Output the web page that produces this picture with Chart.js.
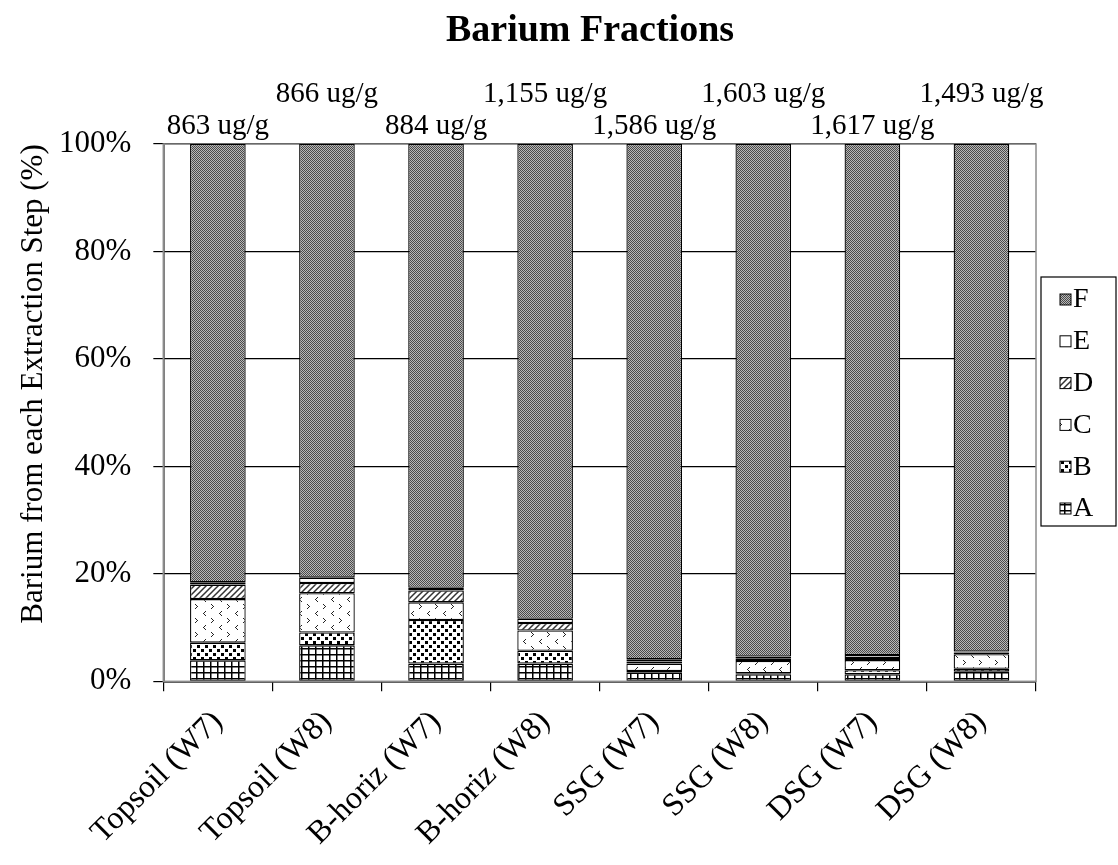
<!DOCTYPE html>
<html>
<head>
<meta charset="utf-8">
<script src="https://cdn.jsdelivr.net/npm/chart.js@4.4.1/dist/chart.umd.min.js"></script>
<style>
    html, body { margin: 0; padding: 0; background: #ffffff; }
    #wrap { width: 1118px; height: 865px; position: relative; }
</style>
</head>
<body>
<div id="wrap"><canvas id="bariumChart"></canvas></div>
<script>
// Barium fractions - sequential extraction steps (% of total)
const categories = ['Topsoil (W7)', 'Topsoil (W8)', 'B-horiz (W7)', 'B-horiz (W8)',
    'SSG (W7)', 'SSG (W8)', 'DSG (W7)', 'DSG (W8)'];
const totalLabels = ['863 ug/g', '866 ug/g', '884 ug/g', '1,155 ug/g',
    '1,586 ug/g', '1,603 ug/g', '1,617 ug/g', '1,493 ug/g'];

const fractionA = [3.9, 6.7, 3.3, 3.3, 1.6, 1.3, 1.3, 1.8];
const fractionB = [3.3, 2.4, 8.1, 2.4, 0.3, 0.2, 0.75, 0.55];
const fractionC = [8.1, 7.3, 3.3, 3.75, 1.4, 2.3, 1.9, 2.7];
const fractionD = [2.7, 1.9, 2.2, 1.4, 0.4, 0.4, 0.4, 0.3];
const fractionE = [0.45, 1.0, 0.5, 0.8, 0.4, 0.4, 0.55, 0.2];
const fractionF = [81.55, 80.7, 82.6, 88.35, 95.9, 95.4, 95.1, 94.45];

const yTicks = [0, 20, 40, 60, 80, 100];

const FONT = "'Liberation Serif', 'Times New Roman', serif";

// Build a small repeating fill pattern
function makePattern(w, h, draw) {
    const c = document.createElement('canvas');
    c.width = w;
    c.height = h;
    const g = c.getContext('2d');
    g.fillStyle = '#ffffff';
    g.fillRect(0, 0, w, h);
    draw(g);
    return document.createElement('canvas').getContext('2d').createPattern(c, 'repeat');
}

const PATTERNS = {
    A: makePattern(7, 6, g => {
        g.fillStyle = '#000';
        g.fillRect(0, 0, 7, 1.5);
        g.fillRect(0, 0, 1.5, 6);
    }),
    B: makePattern(8, 8, g => {
        g.fillStyle = '#000';
        g.fillRect(1, 1, 3, 3);
        g.fillRect(5, 5, 3, 3);
    }),
    C: makePattern(16, 14, g => {
        g.fillStyle = '#222';
        // '>' mark
        g.fillRect(3, 2, 1, 1); g.fillRect(4, 3, 1, 1); g.fillRect(5, 4, 1, 1);
        g.fillRect(4, 5, 1, 1); g.fillRect(3, 6, 1, 1);
        // '<' mark
        g.fillRect(13, 9, 1, 1); g.fillRect(12, 10, 1, 1); g.fillRect(11, 11, 1, 1);
        g.fillRect(12, 12, 1, 1); g.fillRect(13, 13, 1, 1);
    }),
    D: makePattern(6, 6, g => {
        g.strokeStyle = '#333';
        g.lineWidth = 1.5;
        g.beginPath();
        g.moveTo(-1, 7); g.lineTo(7, -1);
        g.moveTo(-4, 4); g.lineTo(4, -4);
        g.moveTo(2, 10); g.lineTo(10, 2);
        g.stroke();
    }),
    E: '#ffffff',
    F: makePattern(2, 2, g => {
        g.fillStyle = '#4a4a4a';
        g.fillRect(0, 0, 1, 1);
        g.fillRect(1, 1, 1, 1);
        g.fillStyle = '#b8b8b8';
        g.fillRect(1, 0, 1, 1);
        g.fillRect(0, 1, 1, 1);
    })
};

function series(label, data, fill) {
    return {
        label: label,
        data: data,
        backgroundColor: fill,
        borderColor: '#000000',
        borderWidth: 1.3,
        borderSkipped: false,
        categoryPercentage: 1.0,
        barPercentage: 0.51
    };
}

// Draws title, y-axis title, totals above each bar, plot border and the legend box
const decorPlugin = {
    id: 'decor',
    beforeDatasetsDraw(chart) {
        const { ctx, chartArea } = chart;
        ctx.save();
        ctx.strokeStyle = '#8c8c8c';
        ctx.lineWidth = 1.5;
        ctx.strokeRect(chartArea.left, chartArea.top, chartArea.right - chartArea.left, chartArea.bottom - chartArea.top);
        ctx.restore();
    },
    afterDraw(chart) {
        const { ctx, chartArea } = chart;
        const xScale = chart.scales.x;
        ctx.save();
        ctx.fillStyle = '#000';
        ctx.textAlign = 'center';
        ctx.textBaseline = 'middle';
        ctx.font = 'bold 38px ' + FONT;
        ctx.fillText('Barium Fractions', 590, 31);

        ctx.font = '29px ' + FONT;
        totalLabels.forEach((txt, i) => {
            const x = xScale.getPixelForValue(i);
            const y = (i % 2 === 0) ? chartArea.top - 18 : chartArea.top - 50;
            ctx.fillText(txt, x, y);
        });

        // y-axis title
        ctx.save();
        ctx.translate(34, 384);
        ctx.rotate(-Math.PI / 2);
        ctx.font = '31px ' + FONT;
        ctx.fillText('Barium from each Extraction Step (%)', 0, 0);
        ctx.restore();

        // legend, top entry is the last series
        const sets = chart.data.datasets.slice().reverse();
        const boxLeft = 1041, boxTop = 277, boxW = 75, boxH = 249;
        ctx.strokeStyle = '#000';
        ctx.lineWidth = 1.2;
        ctx.strokeRect(boxLeft, boxTop, boxW, boxH);
        ctx.font = '28px ' + FONT;
        ctx.textAlign = 'left';
        sets.forEach((ds, k) => {
            const cy = 299 + k * 41.8;
            ctx.fillStyle = ds.backgroundColor;
            ctx.fillRect(1060, cy - 5, 11, 11);
            ctx.strokeStyle = '#000';
            ctx.lineWidth = 1;
            ctx.strokeRect(1060, cy - 5, 11, 11);
            ctx.fillStyle = '#000';
            ctx.fillText(ds.label, 1073, cy + 1);
        });
        ctx.restore();
    }
};

const chart = new Chart(document.getElementById('bariumChart'), {
    type: 'bar',
    data: {
        labels: categories,
        datasets: [
            series('A', fractionA, PATTERNS.A),
            series('B', fractionB, PATTERNS.B),
            series('C', fractionC, PATTERNS.C),
            series('D', fractionD, PATTERNS.D),
            series('E', fractionE, PATTERNS.E),
            series('F', fractionF, PATTERNS.F)
        ]
    },
    options: {
        responsive: true,
        maintainAspectRatio: false,
        animation: false,
        devicePixelRatio: 1,
        layout: {
            padding: { top: 144, right: 82, left: 37, bottom: 0 }
        },
        plugins: {
            title: { display: false },
            tooltip: { enabled: false },
            legend: { display: false }
        },
        scales: {
            x: {
                stacked: true,
                grid: {
                    offset: true,
                    drawOnChartArea: false,
                    drawTicks: true,
                    tickLength: 10,
                    color: '#000',
                    lineWidth: 1.2
                },
                border: { color: '#000', width: 1.5 },
                ticks: {
                    color: '#000',
                    font: { family: FONT, size: 32 },
                    minRotation: 45,
                    maxRotation: 45,
                    padding: 12
                }
            },
            y: {
                stacked: true,
                min: 0,
                max: 100,
                afterBuildTicks: axis => {
                    axis.ticks = yTicks.map(v => ({ value: v }));
                },
                grid: {
                    color: '#000',
                    lineWidth: 1.2,
                    tickLength: 10
                },
                border: { color: '#000', width: 1.5 },
                ticks: {
                    color: '#000',
                    font: { family: FONT, size: 31 },
                    padding: 22,
                    callback: v => v + '%'
                }
            }
        }
    },
    plugins: [decorPlugin]
});
</script>
</body>
</html>
